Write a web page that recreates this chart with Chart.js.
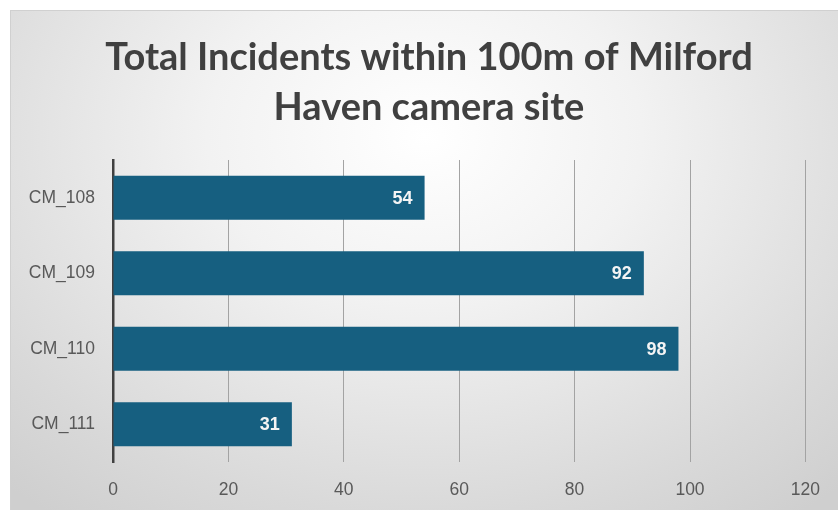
<!DOCTYPE html>
<html>
<head>
<meta charset="utf-8">
<script src="https://cdn.jsdelivr.net/npm/chart.js@4.4.1/dist/chart.umd.min.js"></script>
<style>
  html,body{margin:0;padding:0;background:#fff;width:838px;height:510px;overflow:hidden}
  #box{position:absolute;left:10px;top:10px;width:828px;height:500px;
    border-top:1px solid #d0d0d0;border-left:1px solid #d0d0d0;box-sizing:border-box;
    background:radial-gradient(ellipse 75% 95% at 50% 25%, #ffffff 0%, #f2f2f2 35%, #d9d9d9 80%, #cfcfcf 100%)}
  #box canvas{display:block}
</style>
</head>
<body>
<div id="box"><canvas id="chart" width="827" height="499"></canvas></div>
<script>
// ====== DATA ======
const categories = ['CM_108', 'CM_109', 'CM_110', 'CM_111'];
const incidents = [54, 92, 98, 31];
const titleLines = ['Total Incidents within 100m of Milford', 'Haven camera site'];

// ====== TITLE (centred a bit right of the canvas middle, like the original) ======
const offsetTitle = {
  id: 'offsetTitle',
  afterDraw(chart){
    const {ctx} = chart;
    ctx.save();
    ctx.font = 'bold 38px Lato, "Open Sans", sans-serif';
    ctx.fillStyle = '#404040';
    ctx.textAlign = 'center'; ctx.textBaseline = 'middle';
    titleLines.forEach((t, i) => ctx.fillText(t, 418, 47 + i * 50));
    ctx.restore();
  }
};

// ====== VALUE LABELS (inside bar end) ======
const barLabels = {
  id: 'barLabels',
  afterDatasetsDraw(chart){
    const {ctx} = chart;
    const meta = chart.getDatasetMeta(0);
    ctx.save();
    ctx.font = 'bold 18px "Liberation Sans", Arial, sans-serif';
    ctx.fillStyle = '#f4f4f4';
    ctx.textAlign = 'right'; ctx.textBaseline = 'middle';
    meta.data.forEach((bar, i) => ctx.fillText(String(incidents[i]), bar.x - 12, bar.y + 1));
    ctx.restore();
  }
};

const tickFont = { family: '"Liberation Sans", Arial, sans-serif', size: 17.5 };

new Chart(document.getElementById('chart'), {
  type: 'bar',
  data: { labels: categories, datasets: [{ data: incidents, backgroundColor: '#165f80', barPercentage: 0.58, categoryPercentage: 1 }] },
  options: {
    indexAxis: 'y', responsive: false, animation: false,
    layout: { padding: { left: 0, right: 30, top: 149, bottom: 0 } },
    plugins: { legend: { display: false }, tooltip: { enabled: false }, title: { display: false } },
    scales: {
      x: {
        min: 0, max: 120,
        ticks: { stepSize: 20, color: '#595959', padding: 18, font: tickFont },
        grid: { color: '#a3a3a3', lineWidth: 1, drawTicks: false },
        border: { display: false },
        afterFit(s){ s.height = 48; }
      },
      y: {
        ticks: { color: '#595959', padding: 18, font: tickFont },
        grid: { display: false, drawTicks: false },
        border: { color: '#404040', width: 2.5 },
        afterFit(s){ s.width = 102; }
      }
    }
  },
  plugins: [barLabels, offsetTitle]
});
</script>
</body>
</html>
